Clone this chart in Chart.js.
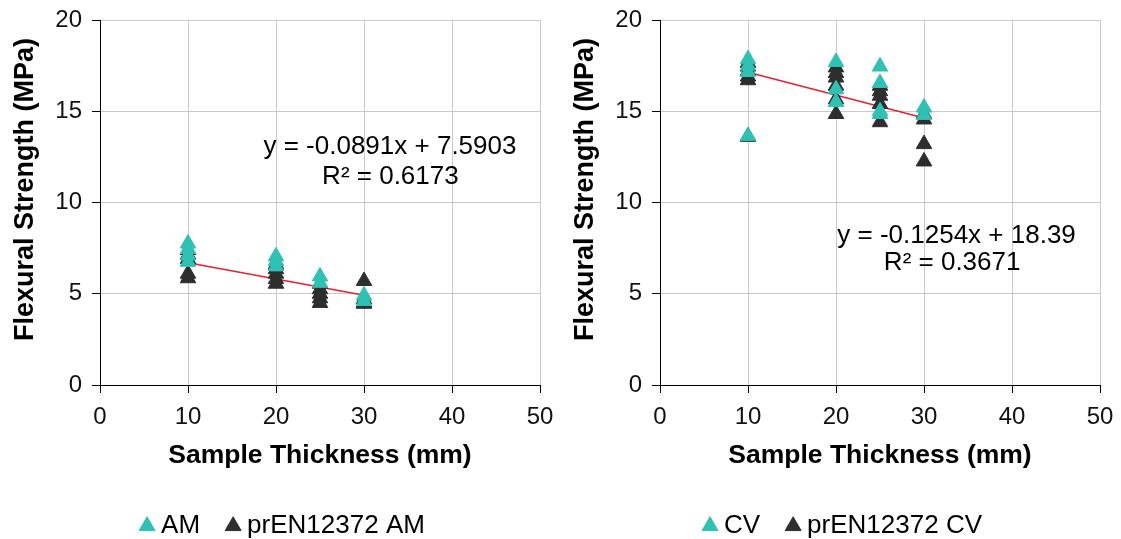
<!DOCTYPE html>
<html>
<head>
<meta charset="utf-8">
<script src="https://cdn.jsdelivr.net/npm/chart.js@4/dist/chart.umd.min.js"></script>
<style>
  html, body { margin:0; padding:0; background:#fff; }
  #wrap { position:relative; width:1121px; height:539px; }
  #c1 { position:absolute; left:0; top:0; }
  #c2 { position:absolute; left:560px; top:0; }
</style>
</head>
<body>
<div id="wrap">
  <canvas id="c1" width="560" height="539"></canvas>
  <canvas id="c2" width="561" height="539"></canvas>
</div>
<script>
// ---------- data ----------
const amX    = [10, 10, 10, 10, 20, 20, 20, 25, 25, 30, 30];
const amY    = [7.75, 7.45, 7.1, 6.75, 7.05, 6.8, 6.5, 5.95, 5.6, 4.9, 4.6];
const prAmX  = [10, 10, 10, 10, 10, 20, 20, 20, 20, 20, 25, 25, 25, 25, 25, 30, 30, 30, 30];
const prAmY  = [7.4, 7.15, 6.9, 6.1, 5.85, 6.6, 6.35, 6.1, 5.8, 5.55, 5.55, 5.25, 5.0, 4.75, 4.5, 5.7, 4.7, 4.5, 4.45];
const trendAmX = [10, 30];
const trendAmY = [6.70, 4.92];

const cvX    = [10, 10, 10, 10, 20, 20, 20, 25, 25, 25, 25, 30, 30];
const cvY    = [17.85, 17.5, 17.15, 13.65, 17.7, 16.2, 15.5, 17.45, 16.55, 15.0, 14.85, 15.2, 14.8];
const prCvX  = [10, 10, 10, 10, 10, 10, 20, 20, 20, 20, 20, 20, 25, 25, 25, 25, 25, 30, 30, 30, 30];
const prCvY  = [17.65, 17.45, 17.2, 16.9, 16.7, 13.6, 17.4, 17.1, 16.85, 16.4, 15.65, 14.85, 16.4, 16.1, 15.85, 15.4, 14.4, 14.85, 14.55, 13.2, 12.25];
const trendCvX = [10, 30];
const trendCvY = [17.14, 14.63];

const seriesNames = ['AM', 'prEN12372 AM', 'CV', 'prEN12372 CV'];
const eqTextAM = ['y = -0.0891x + 7.5903', 'R\u00B2 = 0.6173'];
const eqTextCV = ['y = -0.1254x + 18.39', 'R\u00B2 = 0.3671'];
const xTitle = 'Sample Thickness (mm)';
const yTitle = 'Flexural Strength (MPa)';

// ---------- styling ----------
const FONT = '"Liberation Sans", Arial, Helvetica, sans-serif';
const CYAN = '#2fc1b3';
const DARK = '#2e2e2e';
const RED  = '#e8202f';
const GRID = '#c9c9c9';

const pts = (xs, ys) => xs.map((x, i) => ({ x: x, y: ys[i] }));

// equation labels + vertical axis title
const textPlugin = {
  id: 'textLayer',
  afterDatasetsDraw(chart, args, opts) {
    const { ctx, scales } = chart;
    ctx.save();
    ctx.font = '26px ' + FONT;
    ctx.fillStyle = '#000';
    ctx.textAlign = 'center';
    ctx.textBaseline = 'middle';
    (opts.lines || []).forEach(l => {
      ctx.fillText(l.text, scales.x.getPixelForValue(l.x), scales.y.getPixelForValue(l.y));
    });
    ctx.restore();
  },
  afterDraw(chart, args, opts) {
    const { ctx, chartArea } = chart;
    ctx.save();
    ctx.font = 'bold 27px ' + FONT;
    ctx.fillStyle = '#000';
    ctx.textAlign = 'center';
    ctx.textBaseline = 'middle';
    ctx.translate(26, (chartArea.top + chartArea.bottom) / 2 - 13);
    ctx.rotate(-Math.PI / 2);
    ctx.fillText(opts.yTitle, 0, 0);
    ctx.restore();
  }
};

function makeChart(id, names, cx, cy, bx, by, tx, ty, eqLines, padRight) {
  return new Chart(document.getElementById(id), {
    type: 'scatter',
    data: {
      datasets: [
        { label: names[0], data: pts(cx, cy), pointStyle: 'triangle', pointRadius: 9,
          backgroundColor: CYAN, borderColor: CYAN, borderWidth: 1 },
        { label: names[1], data: pts(bx, by), pointStyle: 'triangle', pointRadius: 9,
          backgroundColor: DARK, borderColor: DARK, borderWidth: 1 },
        { label: 'trend', data: pts(tx, ty), showLine: true, pointRadius: 0,
          borderColor: RED, backgroundColor: RED, borderWidth: 1.5 }
      ]
    },
    options: {
      responsive: false,
      animation: false,
      events: [],
      layout: { padding: { left: 31, top: 20, right: padRight, bottom: 0 } },
      scales: {
        x: {
          type: 'linear', min: 0, max: 50,
          ticks: { stepSize: 10, padding: 10, color: '#111', font: { family: FONT, size: 24 } },
          grid: { color: GRID, tickColor: '#000', tickLength: 8, lineWidth: 1 },
          border: { color: '#000', width: 1 },
          title: { display: true, text: xTitle, color: '#000',
                   font: { family: FONT, size: 26.5, weight: 'bold', lineHeight: 1 },
                   padding: { top: 0, bottom: 12.5 } },
          afterFit: s => { s.height = 96; s.paddingLeft = 0; s.paddingRight = 0; }
        },
        y: {
          type: 'linear', min: 0, max: 20,
          ticks: { stepSize: 5, padding: 10, color: '#111', font: { family: FONT, size: 24 } },
          grid: { color: GRID, tickColor: '#000', tickLength: 8, lineWidth: 1 },
          border: { color: '#000', width: 1 },
          title: { display: false, text: yTitle },
          afterFit: s => { s.width = 69; s.paddingTop = 0; s.paddingBottom = 0; }
        }
      },
      plugins: {
        tooltip: { enabled: false },
        legend: {
          display: true,
          position: 'bottom',
          maxHeight: 58,
          labels: {
            usePointStyle: true,
            boxWidth: 2,
            boxHeight: 13,
            padding: 32,
            color: '#000',
            font: { family: FONT, size: 26 },
            filter: item => item.text !== 'trend'
          }
        },
        textLayer: { lines: eqLines, yTitle: yTitle }
      }
    },
    plugins: [textPlugin]
  });
}

makeChart('c1', [seriesNames[0], seriesNames[1]], amX, amY, prAmX, prAmY, trendAmX, trendAmY,
  [{ text: eqTextAM[0], x: 32.95, y: 13.05 }, { text: eqTextAM[1], x: 33.0, y: 11.4 }], 20);
makeChart('c2', [seriesNames[2], seriesNames[3]], cvX, cvY, prCvX, prCvY, trendCvX, trendCvY,
  [{ text: eqTextCV[0], x: 33.7, y: 8.15 }, { text: eqTextCV[1], x: 33.2, y: 6.7 }], 21);
</script>
</body>
</html>
